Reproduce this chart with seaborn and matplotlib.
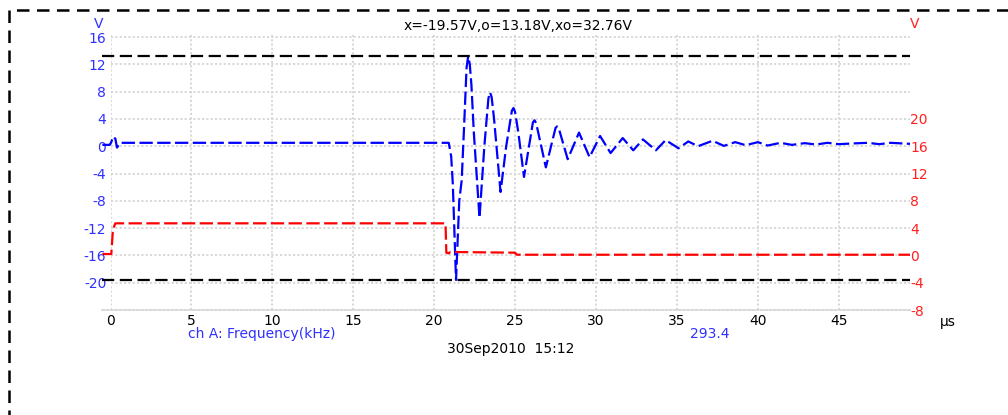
import matplotlib
matplotlib.use("Agg")
import matplotlib.pyplot as plt
import matplotlib.patches as patches
import seaborn as sns

# channel A trace (left axis, V) - time in microseconds
blue_t = [-0.5, -0.05, 0.05, 0.15, 0.3, 0.4, 0.6, 20.9, 21.05, 21.15, 21.35, 21.55,
          21.7, 21.85, 22.0, 22.1, 22.2, 22.3, 22.45, 22.8, 23.1, 23.35, 23.45, 23.55,
          23.7, 24.1, 24.45, 24.8, 24.9, 25.0, 25.2, 25.55, 26.1, 26.2, 26.3, 26.9,
          27.5, 27.6, 27.7, 28.25, 28.95, 29.6, 30.25, 30.9, 31.65, 32.3,
          32.9, 33.7, 34.3, 35.1, 35.7, 36.3, 37.2, 37.9, 38.6, 39.25, 40.0, 40.6,
          41.4, 42.1, 42.9, 43.6, 44.3, 45.0, 45.8, 46.8, 47.5, 48.2, 49.4]
blue_v = [0.2, 0.2, 0.6, 1.4, 1.1, -0.2, 0.5, 0.5, -1.5, -5.5, -19.6, -8,
          -5, 3, 11.5, 13.2, 12.0, 9, 2, -10.5, 0, 7.0, 7.9, 7.2,
          4, -6.7, 0, 5.2, 5.6, 5.0, 2, -4.5, 3.5, 3.8, 3.4, -3.1,
          2.7, 2.9, 2.6, -1.9, 2.0, -1.6, 1.5, -1.0, 1.2, -0.6,
          1.0, -0.6, 0.9, -0.3, 0.7, 0.0, 0.8, 0.05, 0.6, 0.15, 0.6, 0.1,
          0.5, 0.2, 0.45, 0.25, 0.5, 0.3, 0.4, 0.5, 0.3, 0.5, 0.35]

# channel B trace (right axis, V)
red_t = [-0.5, 0.05, 0.15, 0.3, 20.7, 20.75, 20.9, 21.0, 25.0, 25.1, 49.4]
red_v = [0.2, 0.2, 3.8, 4.7, 4.7, 0.4, 0.3, 0.5, 0.4, 0.1, 0.1]

cursor_levels = [-19.57, 13.18]
title_text = "x=-19.57V,o=13.18V,xo=32.76V"
left_ticks = list(range(-20, 17, 4))
right_ticks = list(range(-8, 21, 4))
x_ticks = list(range(0, 46, 5))

sns.set_style("white")
plt.rcParams["font.family"] = ["DejaVu Sans"]
plt.rcParams["axes.unicode_minus"] = False

W, H = 1008, 415
fig = plt.figure(figsize=(W / 100, H / 100), dpi=100)
ax = fig.add_axes([110.5 / W, 1 - 310 / H, 799.5 / W, 275 / H])
ax2 = ax.twinx()

blue = "#0000ff"
red = "#ff0000"
fs = 10

sns.lineplot(x=blue_t, y=blue_v, ax=ax, color=blue, lw=1.6,
             linestyle=(0, (6, 2)), clip_on=False, zorder=3)
sns.lineplot(x=red_t, y=red_v, ax=ax2, color=red, lw=1.6,
             linestyle=(0, (6, 2)), clip_on=False, zorder=3)
ax.hlines(cursor_levels, -0.53, 49.4, colors="black", lw=1.6,
          linestyles=[(0, (5.5, 2.5))], clip_on=False, zorder=4)

ax.set_xlim(0, 49.4)
ax.set_ylim(-24, 16.3)
ax2.set_ylim(-8, 32.3)

ax.set_xticks(x_ticks)
ax.set_yticks(left_ticks)
ax2.set_yticks(right_ticks)
ax.grid(True, color="#d6d6d6", linestyle=(0, (1.2, 1.2)), lw=1.3, zorder=0)
ax.set_axisbelow(True)

for a in (ax, ax2):
    for s in a.spines.values():
        s.set_visible(False)
ax.spines["bottom"].set_visible(True)
ax.spines["bottom"].set_color("#d6d6d6")
ax.spines["bottom"].set_linestyle((0, (1.2, 1.2)))
ax.spines["bottom"].set_linewidth(1.3)
ax.spines["bottom"].set_bounds(-0.53, 49.4)

ax.tick_params(axis="y", length=0, pad=3, labelsize=fs, labelcolor="#3030ff")
ax.tick_params(axis="x", length=0, pad=3, labelsize=fs, labelcolor="black")
ax2.tick_params(axis="y", length=0, pad=0, labelsize=fs, labelcolor="#ff2020")
ax.set_xlabel("")
ax.set_ylabel("")
ax2.set_ylabel("")


def px(x, y):
    return x / W, 1 - y / H


fig.text(*px(99, 24.5), "V", color="#3030ff", fontsize=fs, ha="center", va="center")
fig.text(*px(915, 24), "V", color="#ff2020", fontsize=fs, ha="center", va="center")
fig.text(*px(518, 26), title_text, color="black", fontsize=fs, ha="center", va="center")
fig.text(*px(948, 322), "\u00b5s", color="black", fontsize=fs, ha="center", va="center")
fig.text(*px(188, 334), "ch A: Frequency(kHz)", color="#3030ff", fontsize=fs,
         ha="left", va="center")
fig.text(*px(690, 334), "293.4", color="#3030ff", fontsize=fs, ha="left", va="center")
fig.text(*px(511, 349), "30Sep2010  15:12", color="black", fontsize=fs,
         ha="center", va="center")

# dashed outer frame, right and bottom sides run off the picture
top = 1 - 10 / H
frame = patches.Rectangle((9 / W, -0.2), 1.2, top + 0.2,
                          transform=fig.transFigure, fill=False, edgecolor="black",
                          lw=1.8, linestyle=(0, (5, 3)))
fig.patches.append(frame)

fig.savefig("out.png", dpi=100)
